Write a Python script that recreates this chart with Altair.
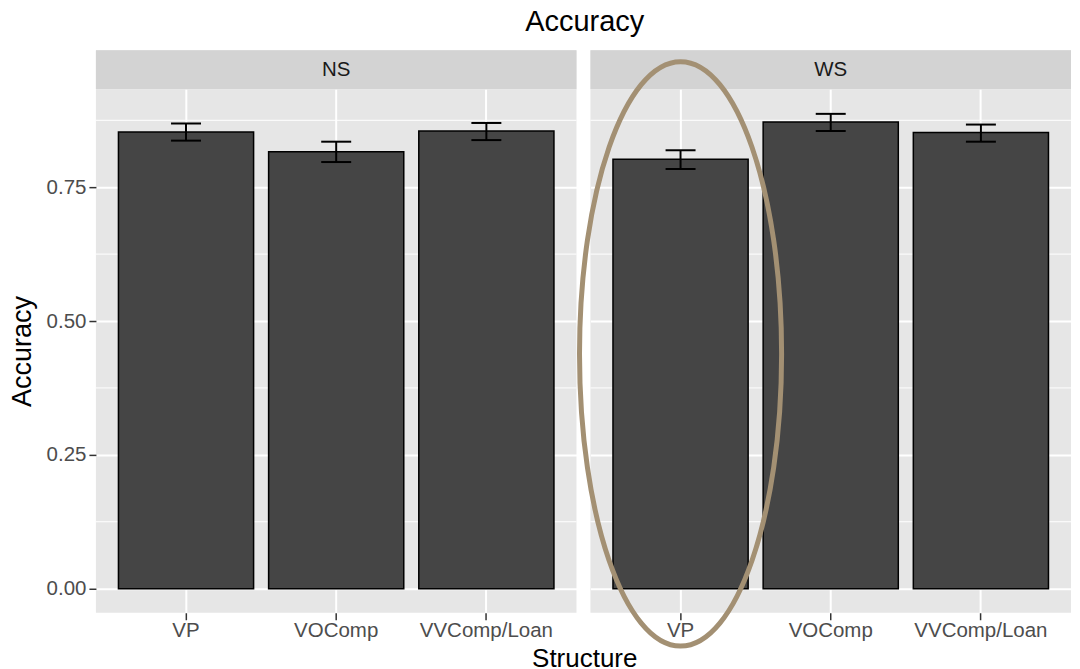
import altair as alt
import pandas as pd

STRUCTURES = ["VP", "VOComp", "VVComp/Loan"]
GROUPS = ["NS", "WS"]

NS_MEAN = [0.853, 0.816, 0.855]
NS_LOW = [0.837, 0.797, 0.838]
NS_HIGH = [0.869, 0.835, 0.870]

WS_MEAN = [0.802, 0.872, 0.852]
WS_LOW = [0.784, 0.855, 0.835]
WS_HIGH = [0.819, 0.887, 0.867]

Y_BREAKS = [0.0, 0.25, 0.50, 0.75]
Y_MINOR = [0.125, 0.375, 0.625, 0.875]

# annotation: ellipse around WS / VP
ANNOT_GROUP = "WS"
ANNOT_STRUCTURE = "VP"
ANNOT_Y = 0.4386

rows = []
for g, m, lo, hi in [("NS", NS_MEAN, NS_LOW, NS_HIGH), ("WS", WS_MEAN, WS_LOW, WS_HIGH)]:
    for s, a, b, c in zip(STRUCTURES, m, lo, hi):
        rows.append({"Group": g, "Structure": s, "Mean": a, "Low": b, "High": c})
df = pd.DataFrame(rows)
minor_df = pd.DataFrame({"v": Y_MINOR})
strip_df = pd.DataFrame({"Group": GROUPS})
annot_df = pd.DataFrame({"Group": [ANNOT_GROUP], "Structure": [ANNOT_STRUCTURE], "y": [ANNOT_Y]})

W = 481
H = 524
STRIP_H = 39
FONT = "Liberation Sans"
ELL_STROKE = 5
AXIS_W = 90  # approx. width of the left y axis (ticks + labels + title)
LABEL_SIZE = 20.5

R = 292.5 * H / 524.0
HALF_W = 102.0 * W / 485.0
A = HALF_W / R
K = 0.5523
ka = K * A
ELLIPSE = (
    f"M0,-1C{ka:.4f},-1,{A:.4f},-{K},{A:.4f},0"
    f"C{A:.4f},{K},{ka:.4f},1,0,1"
    f"C-{ka:.4f},1,-{A:.4f},{K},-{A:.4f},0"
    f"C-{A:.4f},-{K},-{ka:.4f},-1,0,-1Z"
)
ELLIPSE_SIZE = (2 * R) ** 2
# the ellipse reaches left of the WS panel and widens that column's bounds
GAP_FIX = -8

yscale = alt.Scale(domain=[-0.045, 0.933], nice=False, zero=False)
xscale = alt.Scale(domain=STRUCTURES, paddingInner=0.1, paddingOuter=0.15)


def panel(g, first):
    if first:
        yaxis = alt.Axis(values=Y_BREAKS, format=".2f", title="Accuracy",
                         titlePadding=10, titleFontSize=27)
    else:
        yaxis = alt.Axis(values=Y_BREAKS, labels=False, ticks=False, title=None)
    xaxis = alt.Axis(title=None, labelPadding=1)

    X = alt.X("Structure:N", sort=STRUCTURES, scale=xscale, axis=xaxis)
    base = alt.Chart(df).transform_filter(alt.datum.Group == g)

    minor = alt.Chart(minor_df).mark_rule(color="white", strokeWidth=1).encode(
        y=alt.Y("v:Q", scale=yscale, axis=yaxis)
    )
    bars = base.mark_bar(fill="#454545", stroke="black", strokeWidth=1.5).encode(
        x=X,
        y=alt.Y("Mean:Q", scale=yscale, axis=yaxis),
        y2=alt.datum(0),
    )
    err = base.mark_rule(color="black", strokeWidth=2).encode(
        x=X,
        y=alt.Y("Low:Q", scale=yscale, axis=yaxis),
        y2="High:Q",
    )
    cap_lo = base.mark_tick(color="black", thickness=2, size=30, opacity=1).encode(
        x=X, y=alt.Y("Low:Q", scale=yscale, axis=yaxis)
    )
    cap_hi = base.mark_tick(color="black", thickness=2, size=30, opacity=1).encode(
        x=X, y=alt.Y("High:Q", scale=yscale, axis=yaxis)
    )
    layers = [minor, bars, err, cap_lo, cap_hi]
    if g == ANNOT_GROUP:
        ell = alt.Chart(annot_df).mark_point(
            shape=ELLIPSE, size=ELLIPSE_SIZE, filled=False, stroke="#a39073",
            strokeWidth=ELL_STROKE, opacity=1,
        ).encode(x=X, y=alt.Y("y:Q", scale=yscale, axis=yaxis))
        layers.append(ell)
    body = alt.layer(*layers).properties(width=W, height=H)

    sbase = alt.Chart(strip_df).transform_filter(alt.datum.Group == g)
    sx = alt.X("Group:N", axis=None, scale=alt.Scale(paddingInner=0, paddingOuter=0))
    strip = alt.layer(
        sbase.mark_rect(color="#d3d3d3").encode(x=sx),
        sbase.mark_text(font=FONT, fontSize=LABEL_SIZE, color="#1a1a1a",
                        baseline="middle").encode(x=sx, text="Group:N"),
    ).properties(width=W, height=STRIP_H)

    return alt.vconcat(strip, body, spacing=0, bounds="flush")


inner = alt.hconcat(
    panel("NS", True), panel("WS", False), spacing=GAP_FIX
).properties(
    title=alt.TitleParams("Accuracy", fontSize=29, font=FONT, fontWeight="normal",
                          color="black", anchor="middle", frame="bounds",
                          dx=AXIS_W / 2, offset=13),
)

chart = alt.vconcat(inner).properties(
    title=alt.TitleParams("Structure", orient="bottom", fontSize=26, font=FONT,
                          fontWeight="normal", color="black", anchor="middle",
                          frame="bounds", dx=AXIS_W / 2, offset=-10),
    padding={"left": 0, "top": 0, "right": 0, "bottom": 0},
).configure_view(
    stroke=None, fill="#e6e6e6"
).configure_axis(
    labelFont=FONT, titleFont=FONT, labelFontSize=LABEL_SIZE, titleFontSize=26,
    titleFontWeight="normal", titleColor="black", labelColor="#4d4d4d",
    tickColor="#333333", tickSize=7, tickWidth=1.5, labelPadding=3,
    domain=False, grid=True, gridColor="white", gridWidth=2,
).configure_axisX(
    bandPosition=0.5, labelAngle=0,
)

chart.save("out.html", embed_options={"renderer": "svg", "actions": False})
